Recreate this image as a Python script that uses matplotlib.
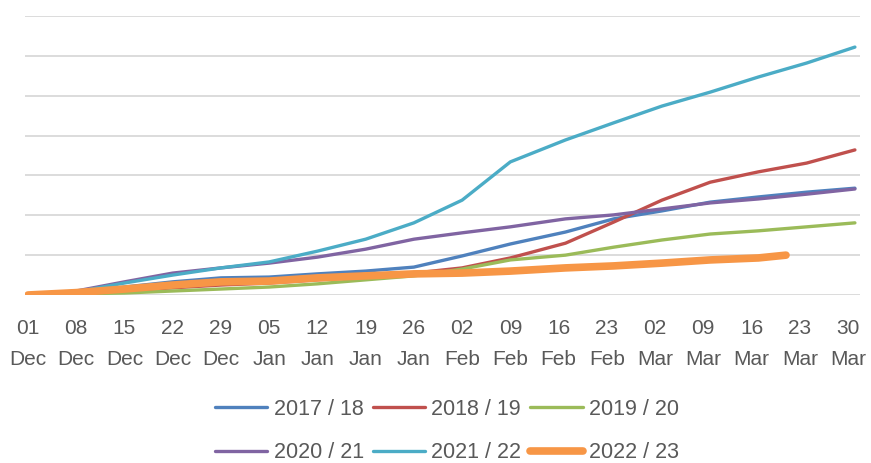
import matplotlib
matplotlib.use('Agg')
import matplotlib.pyplot as plt

# Set plot parameters
plt.rcParams['font.family'] = ['Liberation Sans', 'DejaVu Sans']
plt.rcParams['font.size'] = 15
plt.rcParams['text.color'] = '#595959'

# Tick positions (days since 01 Dec) and labels
tick_days = [0, 7, 14, 21, 28, 35, 42, 49, 56, 63, 70, 77, 84, 91, 98, 105, 112, 119]
tick_labels = ['01\nDec', '08\nDec', '15\nDec', '22\nDec', '29\nDec', '05\nJan', '12\nJan', '19\nJan',
               '26\nJan', '02\nFeb', '09\nFeb', '16\nFeb', '23\nFeb', '02\nMar', '09\nMar', '16\nMar',
               '23\nMar', '30\nMar']

# Readings (days since 01 Dec)
days = [0, 7, 14, 21, 28, 35, 42, 49, 56, 63, 70, 78, 85, 92, 99, 106, 113, 120]
s2017 = [0, 5, 20, 33, 43, 45, 53, 60, 70, 98, 128, 158, 191, 211, 233, 246, 258, 268]
s2018 = [0, 5, 10, 18, 25, 30, 38, 45, 55, 68, 93, 130, 183, 238, 283, 309, 331, 364]
s2019 = [0, 3, 5, 10, 15, 20, 28, 38, 48, 65, 88, 100, 120, 138, 153, 161, 171, 181]
s2020 = [0, 10, 33, 55, 68, 80, 95, 115, 140, 156, 171, 191, 201, 216, 231, 241, 253, 266]
s2021 = [0, 8, 30, 50, 68, 83, 110, 140, 181, 238, 334, 389, 432, 474, 509, 547, 582, 622]
days2022 = [0, 7, 14, 21, 28, 35, 42, 49, 56, 63, 70, 78, 85, 92, 99, 106, 110]
s2022 = [0, 6, 15, 25, 33, 35, 43, 48, 53, 55, 60, 68, 73, 80, 88, 93, 100]

fig = plt.figure(figsize=(8.71, 4.63), dpi=100)
ax = fig.add_axes([25 / 871, 168 / 463, 835 / 871, 279 / 463])

lw = 2.4
h1, = ax.plot(days, s2017, c='#4F81BD', lw=lw, solid_capstyle='round')
h2, = ax.plot(days, s2018, c='#C0504D', lw=lw, solid_capstyle='round')
h3, = ax.plot(days, s2019, c='#9BBB59', lw=lw, solid_capstyle='round')
h4, = ax.plot(days, s2020, c='#8064A2', lw=lw, solid_capstyle='round')
h5, = ax.plot(days, s2021, c='#4BACC6', lw=lw, solid_capstyle='round')
h6, = ax.plot(days2022, s2022, c='#F79646', lw=5.5, solid_capstyle='round')

ax.set_xlim(-0.435, 120.74)
ax.set_ylim(0, 700)
ax.set_yticks(range(0, 701, 100))
ax.set_yticklabels([])
ax.set_xticks(tick_days)
ax.set_xticklabels(tick_labels, linespacing=1.8)
ax.tick_params(length=0, pad=17, labelcolor='#595959')
ax.grid(axis='y', color='#D9D9D9', lw=1.3)
ax.set_axisbelow(True)
for sp in ax.spines.values():
    sp.set_visible(False)

# Legend in row order
fig.legend([h1, h4, h2, h5, h3, h6],
           ['2017 / 18', '2020 / 21', '2018 / 19', '2021 / 22', '2019 / 20', '2022 / 23'],
           ncol=3, loc='center', bbox_to_anchor=(447 / 871, 1 - 431 / 463), frameon=False,
           handlelength=2.45, handletextpad=0.28, columnspacing=0.42, labelspacing=1.05,
           fontsize=15.5)

fig.savefig('out.png', dpi=100)
